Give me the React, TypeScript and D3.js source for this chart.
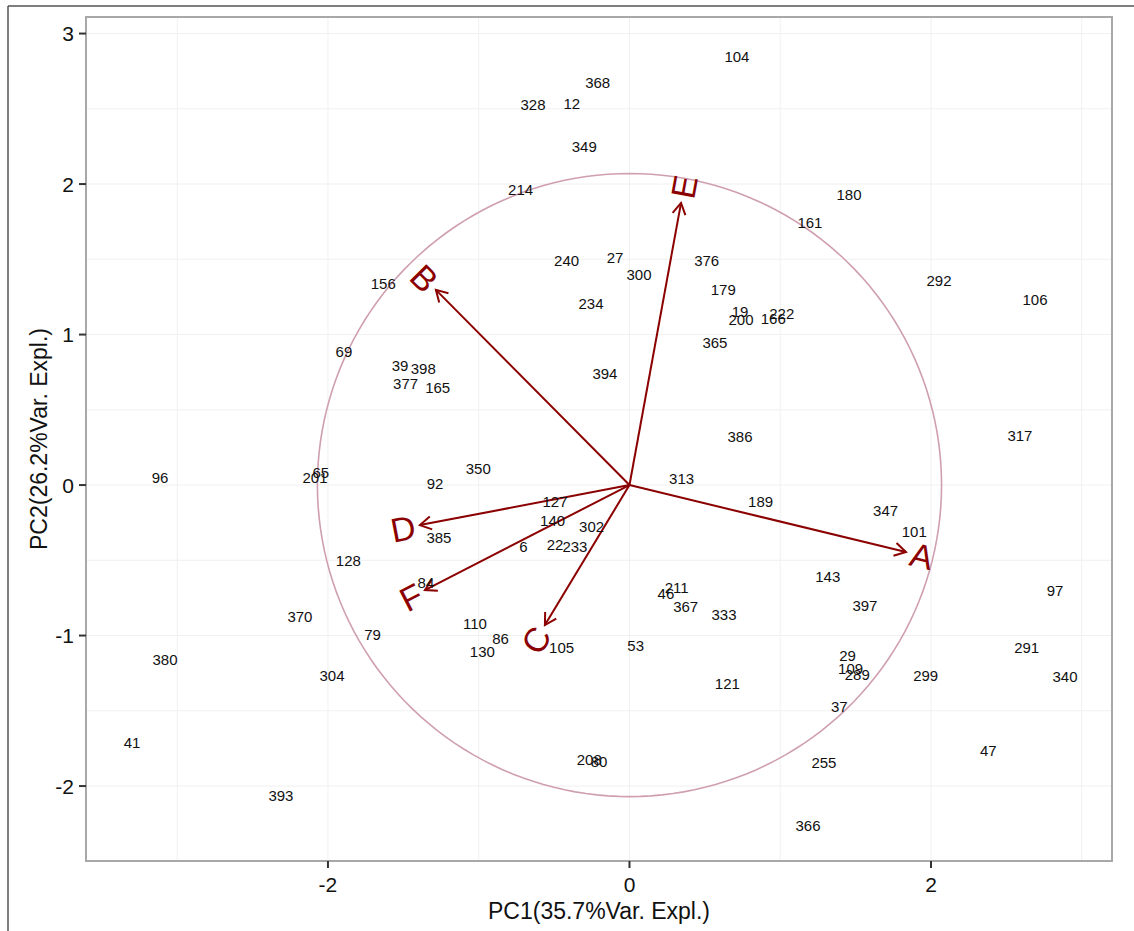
import React from "react";
import * as d3 from "d3";

const obsIds = ["104","368","328","12","349","214","180","161","240","27","300","156","234","69","39","398","377","165","394","376","179","19","200","166","222","365","292","106","386","317","313","189","347","101","143","397","211","46","367","333","53","29","109","289","299","291","340","97","37","47","255","121","366","208","80","110","86","130","105","350","92","65","201","127","140","302","385","6","22","233","128","84","370","96","79","380","304","41","393"];
const obsPC1 = [0.713,-0.211,-0.640,-0.383,-0.300,-0.722,1.456,1.197,-0.417,-0.096,0.063,-1.633,-0.255,-1.894,-1.522,-1.368,-1.485,-1.272,-0.163,0.512,0.622,0.733,0.740,0.954,1.010,0.567,2.053,2.690,0.733,2.590,0.346,0.870,1.699,1.889,1.315,1.562,0.313,0.242,0.373,0.627,0.041,1.447,1.467,1.511,1.965,2.635,2.889,2.823,1.392,2.380,1.290,0.649,1.184,-0.267,-0.202,-1.025,-0.855,-0.976,-0.450,-1.003,-1.290,-2.048,-2.086,-0.494,-0.510,-0.251,-1.264,-0.704,-0.494,-0.362,-1.865,-1.350,-2.186,-3.114,-1.704,-3.081,-1.973,-3.300,-2.312];
const obsPC2 = [2.846,2.675,2.527,2.533,2.249,1.966,1.928,1.742,1.491,1.511,1.401,1.336,1.203,0.884,0.791,0.776,0.672,0.649,0.743,1.491,1.301,1.152,1.101,1.108,1.141,0.946,1.356,1.230,0.319,0.326,0.044,-0.111,-0.173,-0.310,-0.605,-0.798,-0.680,-0.720,-0.809,-0.858,-1.068,-1.130,-1.219,-1.259,-1.263,-1.079,-1.270,-0.698,-1.469,-1.762,-1.846,-1.319,-2.261,-1.822,-1.840,-0.920,-1.019,-1.104,-1.079,0.106,0.011,0.082,0.051,-0.111,-0.237,-0.273,-0.350,-0.406,-0.394,-0.406,-0.503,-0.647,-0.876,0.049,-0.993,-1.159,-1.263,-1.709,-2.063];

const varNames = ["A","B","C","D","E","F"];
const varPC1 = [1.834,-1.284,-0.561,-1.390,0.342,-1.357];
const varPC2 = [-0.445,1.297,-0.930,-0.266,1.875,-0.698];

const circleRadius = 2.07;
const xTicks = [-2, 0, 2];
const yTicks = [-2, -1, 0, 1, 2, 3];
const xGrid = [-3, -2, -1, 0, 1, 2, 3];
const yGrid = [-2.5, -2, -1.5, -1, -0.5, 0, 0.5, 1, 1.5, 2, 2.5, 3];
const xTitle = "PC1(35.7%Var. Expl.)";
const yTitle = "PC2(26.2%Var. Expl.)";

const W = 1134, H = 931;
const L = 86, R = 1112, T = 17, B = 861;
const FONT = "'Liberation Sans', Arial, sans-serif";
const ARROW = "#8B0000";

export default function App() {
  const x = d3.scaleLinear().domain([-3.605, 3.2007]).range([L, R]);
  const y = d3.scaleLinear().domain([-2.498, 3.110]).range([B, T]);

  const circlePts: [number, number][] = d3.range(0, 361, 2).map((a) => {
    const t = (a * Math.PI) / 180;
    return [circleRadius * Math.cos(t), circleRadius * Math.sin(t)];
  });
  const circlePath = d3.line<[number, number]>().x((d) => x(d[0])).y((d) => y(d[1]))(circlePts) || "";

  const x0 = x(0), y0 = y(0);

  return (
    <svg width={W} height={H} style={{ position: "absolute", left: 0, top: 0, background: "#fff" }} fontFamily={FONT}>
      <rect x={0} y={0} width={W} height={H} fill="#fff" />
      <line x1={8} y1={6} x2={W} y2={6} stroke="#555" strokeWidth={1.5} />
      <line x1={8} y1={6} x2={8} y2={H} stroke="#555" strokeWidth={1.5} />
      <defs>
        <clipPath id="panel">
          <rect x={L} y={T} width={R - L} height={B - T} />
        </clipPath>
      </defs>
      {xGrid.map((v) => (
        <line key={"xg" + v} x1={x(v)} x2={x(v)} y1={T} y2={B} stroke="#f0f0f0" strokeWidth={1} />
      ))}
      {yGrid.map((v) => (
        <line key={"yg" + v} x1={L} x2={R} y1={y(v)} y2={y(v)} stroke="#f0f0f0" strokeWidth={1} />
      ))}
      <path d={circlePath} fill="none" stroke="#cf9fb0" strokeWidth={1.6} clipPath="url(#panel)" />
      {varNames.map((n, i) => {
        const tx = x(varPC1[i]), ty = y(varPC2[i]);
        const ang = Math.atan2(ty - y0, tx - x0);
        const hl = 13, ha = Math.PI / 6;
        const p1 = [tx - hl * Math.cos(ang - ha), ty - hl * Math.sin(ang - ha)];
        const p2 = [tx - hl * Math.cos(ang + ha), ty - hl * Math.sin(ang + ha)];
        const deg = (Math.atan(varPC2[i] / varPC1[i]) * 180) / Math.PI;
        const pos = varPC1[i] > 0;
        return (
          <g key={n}>
            <line x1={x0} y1={y0} x2={tx} y2={ty} stroke={ARROW} strokeWidth={2} />
            <polyline points={`${p1[0]},${p1[1]} ${tx},${ty} ${p2[0]},${p2[1]}`} fill="none" stroke={ARROW} strokeWidth={2} />
            <text
              transform={`translate(${tx},${ty}) rotate(${-deg})`}
              textAnchor={pos ? "start" : "end"}
              dx={pos ? 5 : -5}
              dy="0.36em"
              fontSize={34}
              fill={ARROW}
            >
              {n}
            </text>
          </g>
        );
      })}
      {obsIds.map((id, i) => (
        <text key={"o" + i} x={x(obsPC1[i])} y={y(obsPC2[i])} dy="0.36em" textAnchor="middle" fontSize={15} fill="#111">
          {id}
        </text>
      ))}
      <rect x={L} y={T} width={R - L} height={B - T} fill="none" stroke="#a8a8a8" strokeWidth={2} />
      {xTicks.map((v) => (
        <g key={"xt" + v}>
          <line x1={x(v)} x2={x(v)} y1={B} y2={B + 7} stroke="#333" strokeWidth={2} />
          <text x={x(v)} y={B + 31} textAnchor="middle" fontSize={21} fill="#111">{v < 0 ? "-" + Math.abs(v) : String(v)}</text>
        </g>
      ))}
      {yTicks.map((v) => (
        <g key={"yt" + v}>
          <line x1={L - 7} x2={L} y1={y(v)} y2={y(v)} stroke="#333" strokeWidth={2} />
          <text x={L - 12} y={y(v)} dy="0.36em" textAnchor="end" fontSize={21} fill="#111">{v < 0 ? "-" + Math.abs(v) : String(v)}</text>
        </g>
      ))}
      <text x={(L + R) / 2} y={919} textAnchor="middle" fontSize={23} fill="#111">{xTitle}</text>
      <text transform={`translate(47,${(T + B) / 2}) rotate(-90)`} textAnchor="middle" fontSize={23} fill="#111">{yTitle}</text>
    </svg>
  );
}
